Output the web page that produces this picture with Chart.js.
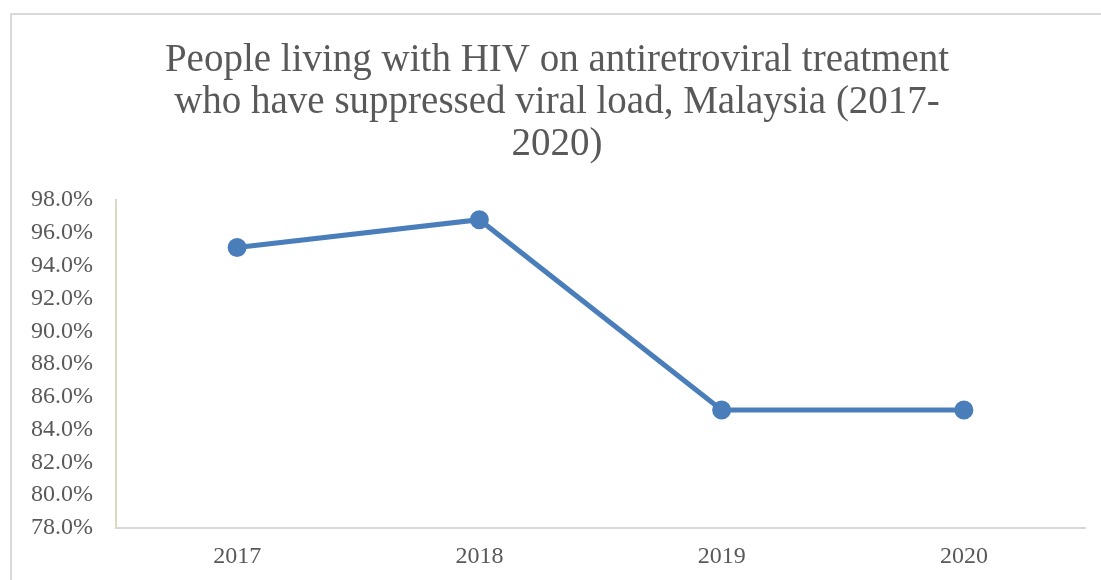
<!DOCTYPE html>
<html>
<head>
<meta charset="utf-8">
<script src="https://cdn.jsdelivr.net/npm/chart.js@4"></script>
<style>
  body { margin: 0; background: #fff; }
  #wrap { position: relative; width: 1101px; height: 580px; }
  #frame { position: absolute; left: 10px; top: 13px; right: -10px; bottom: -10px;
           border-left: 2px solid #d9d9d9; border-top: 2px solid #d9d9d9; }
  #myChart { position: absolute; left: 0; top: 0; }
</style>
</head>
<body>
<div id="wrap">
  <div id="frame"></div>
  <canvas id="myChart" width="1101" height="580"></canvas>
</div>
<script>
var years = ['2017', '2018', '2019', '2020'];
var suppressed = [95.1, 96.8, 85.2, 85.2];
var titleLines = ['People living with HIV on antiretroviral treatment',
                  'who have suppressed viral load, Malaysia (2017-',
                  '2020)'];
var yMin = 78, yMax = 98, yStep = 2;

var serif = "'Liberation Serif', 'DejaVu Serif', serif";

var ctx = document.getElementById('myChart');
var chart = new Chart(ctx, {
    type: 'line',
    data: {
        labels: years,
        datasets: [{
            label: 'Suppressed viral load',
            borderColor: '#4a7ebb',
            backgroundColor: '#4a7ebb',
            borderWidth: 5,
            pointRadius: 7,
            pointHoverRadius: 7,
            tension: 0,
            data: suppressed
        }]
    },
    options: {
        responsive: false,
        animation: false,
        // left padding nudges the title centre; y scale width makes up for it
        layout: { padding: { left: 29, right: 16, top: 0, bottom: 0 } },
        plugins: {
            legend: { display: false },
            tooltip: { enabled: false },
            title: {
                display: true,
                text: titleLines,
                color: '#595959',
                font: { family: serif, size: 39, weight: 'normal', lineHeight: 1.077 },
                padding: { top: 40, bottom: 34 }
            }
        },
        scales: {
            x: {
                offset: true,
                grid: { display: false, drawTicks: false },
                border: { display: true, color: '#d9d9d9', width: 2 },
                ticks: { color: '#595959', font: { family: serif, size: 24 }, padding: 14 },
                afterFit: function (scale) { scale.height = 52; }
            },
            y: {
                min: yMin,
                max: yMax,
                grid: { display: false, drawTicks: false },
                border: { display: true, color: '#ddd8c4', width: 2 },
                ticks: {
                    stepSize: yStep,
                    color: '#595959',
                    font: { family: serif, size: 24 },
                    padding: 23,
                    callback: function (v) { return v.toFixed(1) + '%'; }
                },
                afterFit: function (scale) { scale.width = 87; }
            }
        }
    }
});
</script>
</body>
</html>
